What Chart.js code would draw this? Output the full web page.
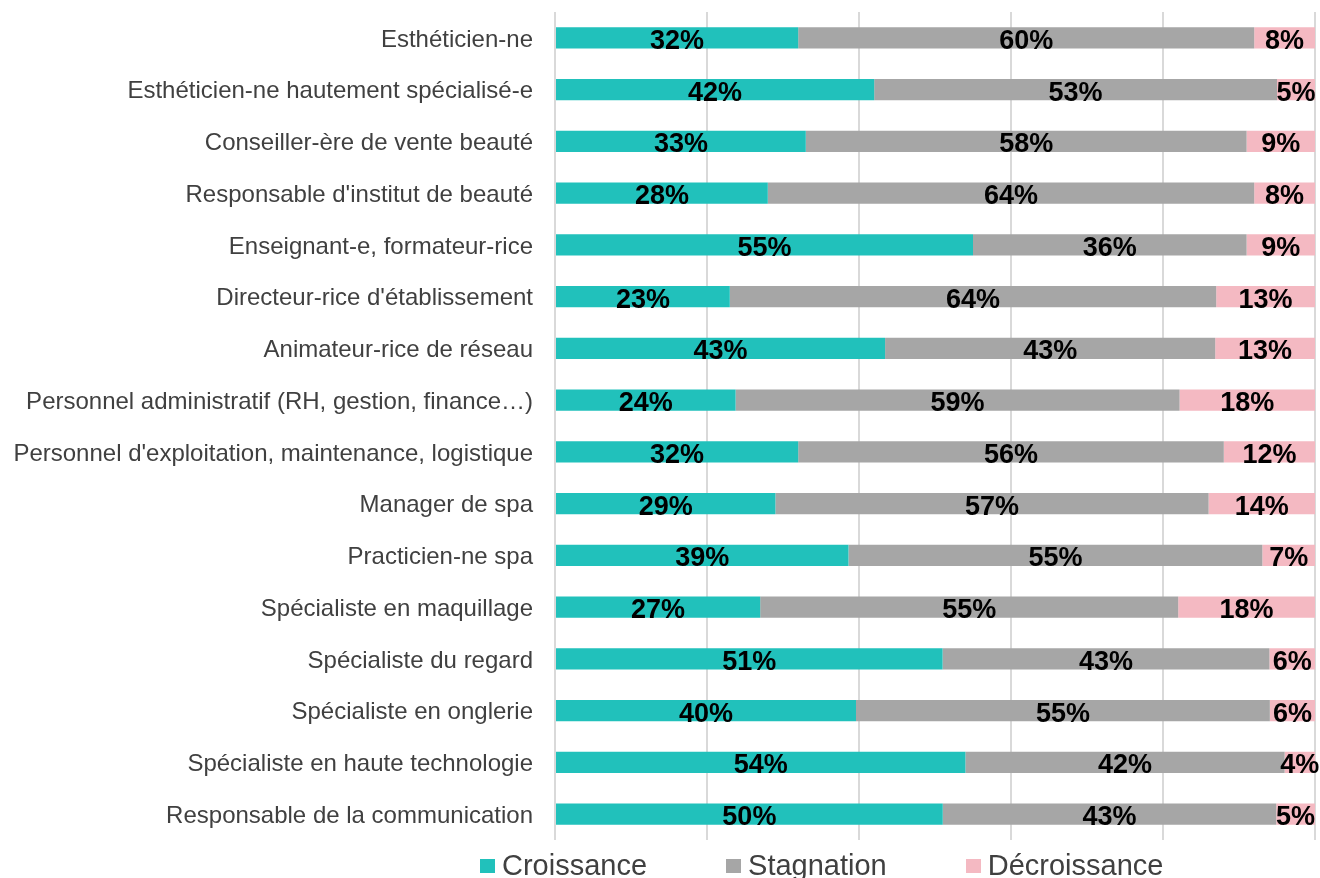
<!DOCTYPE html>
<html>
<head>
<meta charset="utf-8">
<script src="https://cdn.jsdelivr.net/npm/chart.js@4/dist/chart.umd.min.js"></script>
<style>
  html, body { margin: 0; padding: 0; background: #ffffff; }
  #wrap { position: relative; width: 1320px; height: 878px; overflow: hidden; }
  #legend { position: absolute; left: 480px; top: 851px; display: flex; align-items: center;
            font-family: Arial, "Liberation Sans", sans-serif; font-size: 29px; line-height: 29px; color: #404040; white-space: nowrap; }
  .item { display: flex; align-items: center; margin-right: 79px; }
  .box { width: 15px; height: 14px; margin-right: 7px; }
</style>
</head>
<body>
<div id="wrap">
  <canvas id="c" width="1320" height="878"></canvas>
  <div id="legend"></div>
</div>
<script>
const categories = [
  "Esthéticien-ne",
  "Esthéticien-ne hautement spécialisé-e",
  "Conseiller-ère de vente beauté",
  "Responsable d'institut de beauté",
  "Enseignant-e, formateur-rice",
  "Directeur-rice d'établissement",
  "Animateur-rice de réseau",
  "Personnel administratif (RH, gestion, finance…)",
  "Personnel d'exploitation, maintenance, logistique",
  "Manager de spa",
  "Practicien-ne spa",
  "Spécialiste en maquillage",
  "Spécialiste du regard",
  "Spécialiste en onglerie",
  "Spécialiste en haute technologie",
  "Responsable de la communication"
];
const seriesNames = ["Croissance", "Stagnation", "Décroissance"];
const croissance   = [32, 42, 33, 28, 55, 23, 43, 24, 32, 29, 39, 27, 51, 40, 54, 50];
const stagnation   = [60, 53, 58, 64, 36, 64, 43, 59, 56, 57, 55, 55, 43, 55, 42, 43];
const decroissance = [ 8,  5,  9,  8,  9, 13, 13, 18, 12, 14,  7, 18,  6,  6,  4,  5];
const xTicks = [0, 20, 40, 60, 80, 100];

const colors = ["#21C1BB", "#A6A6A6", "#F4B9C2"];
const raw = [croissance, stagnation, decroissance];
const totals = categories.map((_, i) => croissance[i] + stagnation[i] + decroissance[i]);
const pct = raw.map(arr => arr.map((v, i) => v / totals[i] * 100));

const labelPlugin = {
  id: 'segLabels',
  afterDatasetsDraw(chart) {
    const ctx = chart.ctx;
    ctx.save();
    ctx.font = "bold 27px Arial, 'Liberation Sans', sans-serif";
    ctx.fillStyle = "#000000";
    ctx.textAlign = "center";
    ctx.textBaseline = "alphabetic";
    chart.data.datasets.forEach((ds, di) => {
      const meta = chart.getDatasetMeta(di);
      meta.data.forEach((el, i) => {
        const p = el.getProps(['x', 'y', 'base'], true);
        const cx = (p.x + p.base) / 2;
        ctx.fillText(raw[di][i] + "%", cx, p.y + 11);
      });
    });
    ctx.restore();
  }
};

new Chart(document.getElementById('c'), {
  type: 'bar',
  data: {
    labels: categories,
    datasets: seriesNames.map((n, k) => ({
      label: n,
      data: pct[k],
      backgroundColor: colors[k],
      borderWidth: 0,
      categoryPercentage: 1,
      barPercentage: 0.41
    }))
  },
  options: {
    indexAxis: 'y',
    responsive: false,
    animation: false,
    layout: { padding: { top: 12, right: 5, bottom: 38, left: 0 } },
    plugins: { legend: { display: false }, tooltip: { enabled: false } },
    scales: {
      x: {
        stacked: true,
        min: 0, max: 100,
        afterBuildTicks(scale) { scale.ticks = xTicks.map(v => ({ value: v })); },
        afterFit(scale) { scale.paddingLeft = 0; scale.paddingRight = 0; scale.paddingTop = 0; scale.paddingBottom = 0; },
        ticks: { display: false },
        grid: { color: "#D9D9D9", lineWidth: 2, drawTicks: false },
        border: { display: false }
      },
      y: {
        stacked: true,
        afterFit(scale) { scale.width = 555; scale.paddingTop = 0; scale.paddingBottom = 0; },
        ticks: {
          color: "#404040",
          padding: 22,
          labelOffset: 2,
          font: { family: "Arial, 'Liberation Sans', sans-serif", size: 24 }
        },
        grid: { display: false, drawTicks: false },
        border: { display: false }
      }
    }
  },
  plugins: [labelPlugin]
});

const lg = document.getElementById('legend');
seriesNames.forEach((n, k) => {
  const it = document.createElement('div');
  it.className = 'item';
  const b = document.createElement('span');
  b.className = 'box';
  b.style.background = colors[k];
  const t = document.createElement('span');
  t.textContent = n;
  it.appendChild(b); it.appendChild(t);
  lg.appendChild(it);
});
</script>
</body>
</html>
